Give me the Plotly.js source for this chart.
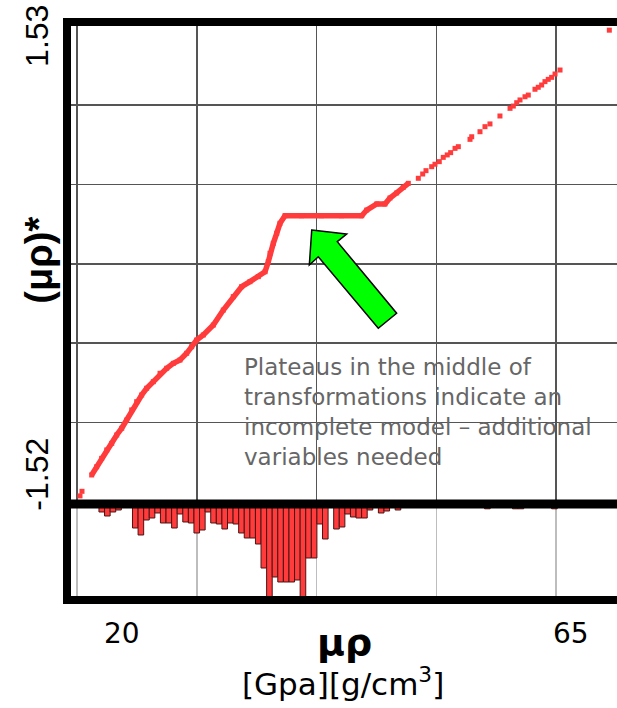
<!DOCTYPE html>
<html>
<head>
<meta charset="utf-8">
<script src="https://cdn.plot.ly/plotly-3.0.1.min.js"></script>
<style>
  html, body { margin: 0; padding: 0; background: #ffffff; }
  #chart { width: 617px; height: 708px; }
</style>
</head>
<body>
<div id="chart"></div>
<script>
// ---- transformed variable (μρ)* against μρ ----
// lowest two points, sitting apart from the rest
const tailX = [15.80, 16.00];
const tailY = [-1.52, -1.49];

// closely packed run of points, including the plateau
const runX = [16.97, 17.47, 17.97, 18.48, 18.98, 19.48, 19.98, 20.48, 20.98, 21.48,
              21.98, 22.48, 23.15, 23.82, 24.49, 25.15, 25.82, 26.49, 26.99, 27.49,
              28.16, 29.16, 30.16, 31.16, 32.00, 32.83, 33.67, 34.34, 34.67, 34.84,
              35.17, 35.51, 35.84, 36.34, 38.00, 40.00, 42.00, 44.03, 44.53, 45.53,
              46.36, 46.86, 47.53, 48.19, 48.70];
const runY = [-1.383, -1.329, -1.274, -1.219, -1.176, -1.121, -1.077, -1.023, -0.957, -0.903,
              -0.859, -0.815, -0.772, -0.717, -0.684, -0.652, -0.630, -0.586, -0.543, -0.499,
              -0.466, -0.401, -0.303, -0.215, -0.150, -0.117, -0.084, -0.052, 0.014, 0.069,
              0.134, 0.200, 0.265, 0.315, 0.315, 0.315, 0.315, 0.315, 0.352, 0.392,
              0.392, 0.431, 0.464, 0.501, 0.527];

// upper points, spaced out
const upperX = [49.70, 50.14, 50.47, 51.04, 51.37, 51.80, 52.20, 52.60, 52.94, 53.38,
                53.71, 54.88, 55.05, 55.88, 56.38, 56.88, 57.88, 58.89, 59.22, 59.56,
                59.89, 60.39, 60.72, 61.39, 61.72, 62.06, 62.39, 62.72, 63.06, 63.40,
                63.90, 68.84];
const upperY = [0.560, 0.588, 0.610, 0.636, 0.652, 0.669, 0.697, 0.713, 0.728, 0.756,
                0.767, 0.815, 0.832, 0.865, 0.898, 0.916, 0.968, 1.018, 1.033, 1.055,
                1.073, 1.094, 1.105, 1.143, 1.156, 1.171, 1.193, 1.208, 1.221, 1.243,
                1.269, 1.53];

// ---- distribution of μρ (bars hang downward) ----
const binStart = 17.7;
const binWidth = 0.56;
const binCounts = [2, 3, 2, 1.5, null, null, 6, 7.75, 4, 3.5,
                   2.25, 4.75, 4.75, 6, 2.5, 4.5, 4.75, 7.25, 6.5, 2,
                   4.75, 5, 6.25, 4.75, 5, 7.25, 8.5, 8.5, 10, 16,
                   25, 18.25, 19.5, 19.5, 19.5, 19, 25, 13.5, 13.5, 5,
                   8.75, null, 6.25, 5.75, 2.5, 3.25, 3.5, 3.5, 1.5, null,
                   2.25, 1.75, null, 1.5, null, null, null, null, null, null,
                   null, null, null, null, null, null, null, null, null, 1.2,
                   null, null, null, null, 1.2, 1.2, null, null, null, null,
                   null, 1.2];

// ---- text ----
const yTopLabel = '1.53';
const yBottomLabel = '-1.52';
const yTitle = '<b>(μρ)*</b>';
const xTickLabels = ['20', '65'];
const xTickValues = [20, 65];
const xTitle = '<b>μρ</b>';
const xUnits = '[Gpa][g/cm<sup>3</sup>]';
const note = 'Plateaus in the middle of<br>transformations indicate an<br>incomplete model – additional<br>variables needed';

const red = '#ff3b3b';
const binCenters = binCounts.map((_, i) => binStart + (i + 0.5) * binWidth);

const traces = [
  {
    type: 'scatter', mode: 'markers', x: tailX, y: tailY,
    xaxis: 'x', yaxis: 'y',
    marker: { symbol: 'square', size: 5, color: red },
    hoverinfo: 'skip'
  },
  {
    type: 'scatter', mode: 'lines+markers', x: runX, y: runY,
    xaxis: 'x', yaxis: 'y',
    line: { color: red, width: 5.5 },
    marker: { symbol: 'square', size: 5, color: red },
    hoverinfo: 'skip'
  },
  {
    type: 'scatter', mode: 'markers', x: upperX, y: upperY,
    xaxis: 'x', yaxis: 'y',
    marker: { symbol: 'square', size: 5, color: red },
    hoverinfo: 'skip', cliponaxis: false
  },
  {
    type: 'bar', x: binCenters, y: binCounts, width: binWidth,
    xaxis: 'x2', yaxis: 'y2',
    marker: { color: red, line: { color: '#4a1414', width: 1 } },
    hoverinfo: 'skip'
  }
];

const xRange = [14.498, 69.609];
const splitY = 0.1661;
const font1 = 'DejaVu Sans, sans-serif';
const font2 = 'Liberation Sans, Arial, sans-serif';

const layout = {
  width: 617, height: 708,
  margin: { l: 67, r: 0, t: 22, b: 108, pad: 0 },
  paper_bgcolor: '#ffffff', plot_bgcolor: '#ffffff',
  showlegend: false,
  bargap: 0,
  xaxis: {
    domain: [0, 1], range: xRange, anchor: 'y',
    tick0: 15.5, dtick: 12, showgrid: true, gridcolor: '#555555', gridwidth: 1.5,
    showticklabels: false, ticks: '', zeroline: false, showline: false, fixedrange: true
  },
  yaxis: {
    domain: [splitY, 1], range: [-1.573, 1.5835], anchor: 'x',
    tick0: 0, dtick: 0.52, showgrid: true, gridcolor: '#555555', gridwidth: 1.5,
    showticklabels: false, ticks: '', zeroline: false, showline: false, fixedrange: true
  },
  xaxis2: {
    domain: [0, 1], range: xRange, anchor: 'y2',
    tick0: 15.5, dtick: 12, showgrid: true, gridcolor: '#bdbdbd', gridwidth: 1.5,
    showticklabels: false, ticks: '', zeroline: false, showline: false, fixedrange: true
  },
  yaxis2: {
    domain: [0, splitY], range: [24, 0], anchor: 'x2',
    showgrid: false, showticklabels: false, ticks: '', zeroline: false, showline: false, fixedrange: true
  },
  shapes: [
    // frame: top, left, bottom
    { type: 'path', xref: 'paper', yref: 'paper',
      path: 'M 1.05,1 L 0,1 L 0,0 L 1.05,0',
      line: { color: '#000000', width: 8 }, fillcolor: 'rgba(0,0,0,0)' },
    // divider between the two panels
    { type: 'line', xref: 'paper', yref: 'paper', x0: -0.007, x1: 1.05, y0: splitY, y1: splitY,
      line: { color: '#000000', width: 9 } },
    // pointer to the plateau
    { type: 'path', xref: 'x', yref: 'y',
      path: 'M 39.02,0.221 L 42.52,0.195 L 41.58,0.145 L 47.53,-0.324 L 45.69,-0.422 L 39.68,0.046 L 38.78,-0.008 Z',
      fillcolor: '#00ff00', line: { color: '#000000', width: 1.5 } }
  ],
  annotations: [
    { text: yTopLabel, xref: 'paper', yref: 'y', x: -0.055, y: 1.53, yshift: -6,
      xanchor: 'center', yanchor: 'middle', textangle: -90, showarrow: false,
      font: { family: font2, size: 32, color: '#000000' } },
    { text: yBottomLabel, xref: 'paper', yref: 'y', x: -0.055, y: -1.52, yshift: 22,
      xanchor: 'center', yanchor: 'middle', textangle: -90, showarrow: false,
      font: { family: font2, size: 32, color: '#000000' } },
    { text: yTitle, xref: 'paper', yref: 'paper', x: -0.05, y: 0.588,
      xanchor: 'center', yanchor: 'middle', textangle: -90, showarrow: false,
      font: { family: font2, size: 38, color: '#000000' } },
    { text: xTickLabels[0], xref: 'x', yref: 'paper', x: xTickValues[0], y: -0.0588,
      xanchor: 'center', yanchor: 'middle', showarrow: false,
      font: { family: font1, size: 28, color: '#000000' } },
    { text: xTickLabels[1], xref: 'x', yref: 'paper', x: xTickValues[1], y: -0.0588,
      xanchor: 'center', yanchor: 'middle', showarrow: false,
      font: { family: font1, size: 28, color: '#000000' } },
    { text: xTitle, xref: 'paper', yref: 'paper', x: 0.5045, y: -0.072,
      xanchor: 'center', yanchor: 'middle', showarrow: false,
      font: { family: font1, size: 38, color: '#000000' } },
    { text: xUnits, xref: 'paper', yref: 'paper', x: 0.501, y: -0.142,
      xanchor: 'center', yanchor: 'middle', showarrow: false,
      font: { family: font1, size: 31, color: '#000000' } },
    { text: note, xref: 'paper', yref: 'paper', x: 0.318, y: 0.429,
      xanchor: 'left', yanchor: 'top', align: 'left', showarrow: false,
      font: { family: font1, size: 23, color: '#666666' } }
  ]
};

Plotly.newPlot('chart', traces, layout, { displayModeBar: false, staticPlot: true });
</script>
</body>
</html>
